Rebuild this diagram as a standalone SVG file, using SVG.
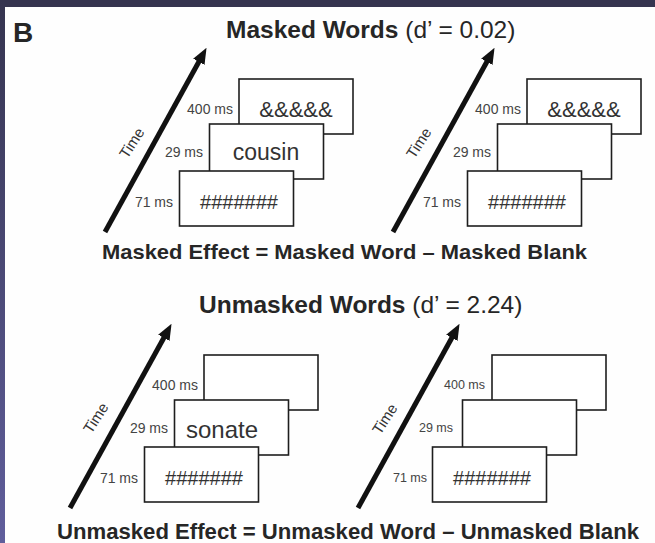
<svg xmlns="http://www.w3.org/2000/svg" width="655" height="543" viewBox="0 0 655 543">
  <style>
    .t { font-family: "Liberation Sans", Arial, sans-serif; fill: #262626; }
    .b { font-weight: bold; }
    .box { fill: #ffffff; stroke: #1e1e1e; stroke-width: 1.6; }
    .ms { font-family: "Liberation Sans", Arial, sans-serif; font-size: 14px; fill: #444; text-anchor: end; }
    .ms2 { font-family: "Liberation Sans", Arial, sans-serif; font-size: 12.5px; fill: #444; text-anchor: end; }
    .big { font-family: "Liberation Sans", Arial, sans-serif; fill: #333; text-anchor: middle; }
    .time { font-family: "Liberation Sans", Arial, sans-serif; font-size: 15px; fill: #333; text-anchor: middle; }
    .arrow { stroke: #111; stroke-width: 5; fill: none; marker-end: url(#head); }
  </style>
  <defs>
    <linearGradient id="side" x1="0" y1="0" x2="0" y2="1">
      <stop offset="0" stop-color="#35344f"/>
      <stop offset="1" stop-color="#605e9c"/>
    </linearGradient>
    <marker id="head" viewBox="0 0 16 13" markerWidth="16" markerHeight="13" markerUnits="userSpaceOnUse" refX="1" refY="6.5" orient="auto">
      <path d="M0,0 L16,6.5 L0,13 z" fill="#111"/>
    </marker>
  </defs>

  <rect x="0" y="0" width="655" height="543" fill="#fefefe"/>
  <rect x="0" y="0" width="655" height="7" fill="#35344f"/>
  <rect x="0" y="0" width="5" height="543" fill="url(#side)"/>

  <text class="t b" x="13" y="42" font-size="28">B</text>

  <text class="t" x="226" y="38" font-size="24.5"><tspan font-weight="bold">Masked Words</tspan> (d’ = 0.02)</text>
  <text class="t b" x="102" y="259" font-size="21" textLength="485" lengthAdjust="spacingAndGlyphs">Masked Effect = Masked Word – Masked Blank</text>
  <text class="t" x="199" y="313" font-size="24.5"><tspan font-weight="bold">Unmasked Words</tspan> (d’ = 2.24)</text>
  <text class="t b" x="57" y="539" font-size="22" textLength="582" lengthAdjust="spacingAndGlyphs">Unmasked Effect = Unmasked Word – Unmasked Blank</text>

  <g id="connectors">
    <line class="arrow" x1="105" y1="232" x2="199.3" y2="61"/>
    <line class="arrow" x1="393" y1="232" x2="487.3" y2="61"/>
    <line class="arrow" x1="70" y1="508" x2="164.3" y2="337"/>
    <line class="arrow" x1="358" y1="508" x2="452.3" y2="337"/>
  </g>

  <!-- Masked word panel -->
  <g id="masked-word" transform="translate(0,0)">
    <text class="time" transform="translate(132,143) rotate(-57)" y="5">Time</text>
    <g id="mw-400">
      <rect class="box" x="239" y="79" width="114" height="55"/>
      <text class="ms" x="233" y="114">400 ms</text>
      <text class="big" x="296" y="117" font-size="22">&amp;&amp;&amp;&amp;&amp;</text>
    </g>
    <g id="mw-29">
      <rect class="box" x="209.5" y="124" width="114" height="55"/>
      <text class="ms" x="203" y="157">29 ms</text>
      <text class="big" x="266" y="160" font-size="23">cousin</text>
    </g>
    <g id="mw-71">
      <rect class="box" x="179.5" y="171" width="114" height="55"/>
      <text class="ms" x="173" y="207">71 ms</text>
      <text class="big" x="239" y="209" font-size="20">#######</text>
    </g>
  </g>

  <!-- Masked blank panel -->
  <g id="masked-blank" transform="translate(288,0)">
    <text class="time" transform="translate(131,143) rotate(-57)" y="5">Time</text>
    <g id="mb-400">
      <rect class="box" x="239" y="79" width="114" height="55"/>
      <text class="ms" x="233" y="114">400 ms</text>
      <text class="big" x="296" y="117" font-size="22">&amp;&amp;&amp;&amp;&amp;</text>
    </g>
    <g id="mb-29">
      <rect class="box" x="209.5" y="124" width="114" height="55"/>
      <text class="ms" x="203" y="157">29 ms</text>
    </g>
    <g id="mb-71">
      <rect class="box" x="179.5" y="171" width="114" height="55"/>
      <text class="ms" x="173" y="207">71 ms</text>
      <text class="big" x="239" y="209" font-size="20">#######</text>
    </g>
  </g>

  <!-- Unmasked word panel -->
  <g id="unmasked-word" transform="translate(-35,276)">
    <text class="time" transform="translate(131,142) rotate(-57)" y="5">Time</text>
    <g id="uw-400">
      <rect class="box" x="239" y="79" width="114" height="55"/>
      <text class="ms" x="233" y="114">400 ms</text>
    </g>
    <g id="uw-29">
      <rect class="box" x="209.5" y="124" width="114" height="55"/>
      <text class="ms" x="203" y="157">29 ms</text>
      <text class="big" x="257" y="162" font-size="24">sonate</text>
    </g>
    <g id="uw-71">
      <rect class="box" x="179.5" y="171" width="114" height="55"/>
      <text class="ms" x="173" y="207">71 ms</text>
      <text class="big" x="239" y="209" font-size="20">#######</text>
    </g>
  </g>

  <!-- Unmasked blank panel -->
  <g id="unmasked-blank" transform="translate(253,276)">
    <text class="time" transform="translate(132,143) rotate(-57)" y="5">Time</text>
    <g id="ub-400">
      <rect class="box" x="239" y="79" width="114" height="55"/>
      <text class="ms2" x="232" y="113">400 ms</text>
    </g>
    <g id="ub-29">
      <rect class="box" x="209.5" y="124" width="114" height="55"/>
      <text class="ms2" x="200" y="156">29 ms</text>
    </g>
    <g id="ub-71">
      <rect class="box" x="179.5" y="171" width="114" height="55"/>
      <text class="ms2" x="174" y="206">71 ms</text>
      <text class="big" x="239" y="209" font-size="20">#######</text>
    </g>
  </g>
</svg>
